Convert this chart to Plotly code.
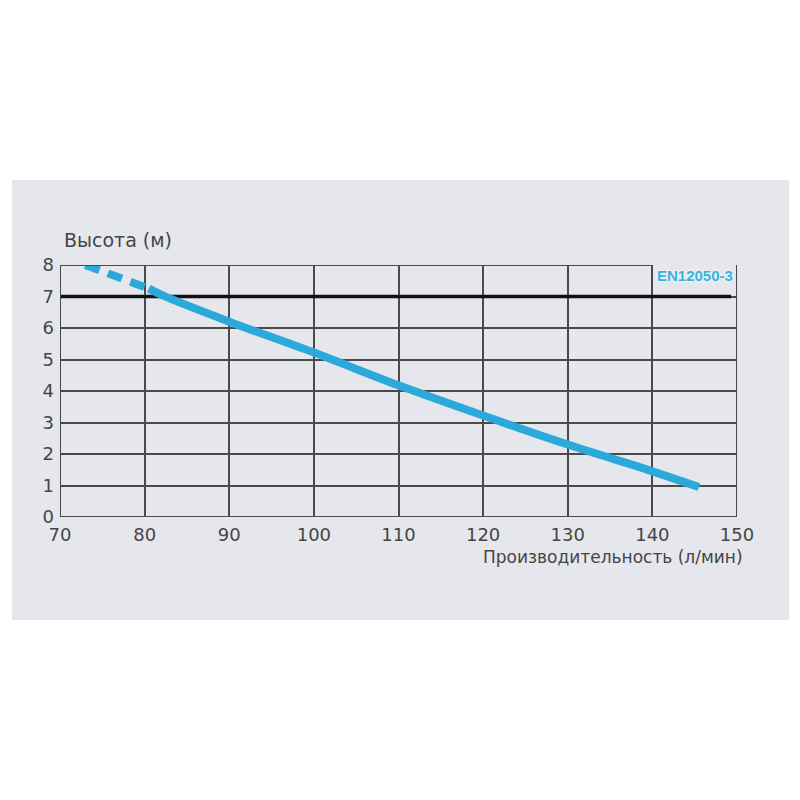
import plotly.graph_objects as go

# Data
x_dashed = [73.0, 77.0, 80.5]
y_dashed = [8.0, 7.6, 7.25]
x_solid = [80.5, 82.0, 90.0, 100.0, 110.0, 120.0, 130.0, 140.0, 145.5]
y_solid = [7.25, 7.05, 6.2, 5.22, 4.18, 3.22, 2.3, 1.45, 0.95]
norm_x = [70, 149.3]
norm_y = [7, 7]
norm_label = "EN12050-3"
x_ticks = [70, 80, 90, 100, 110, 120, 130, 140, 150]
y_ticks = [0, 1, 2, 3, 4, 5, 6, 7, 8]
x_title = "Производительность (л/мин)"
y_title = "Высота (м)"

BLUE = "#2aa9da"
GRID = "#4a4a4a"
TXT = "#454545"
FONT = "DejaVu Sans, sans-serif"

fig = go.Figure()
fig.add_trace(go.Scatter(x=norm_x, y=norm_y, mode="lines",
                         line=dict(color="#111111", width=3.5), hoverinfo="skip"))
fig.add_trace(go.Scatter(x=x_dashed, y=y_dashed, mode="lines",
                         line=dict(color=BLUE, width=8, dash="15px,9px"), hoverinfo="skip"))
fig.add_trace(go.Scatter(x=x_solid, y=y_solid, mode="lines",
                         line=dict(color=BLUE, width=8, shape="spline"), hoverinfo="skip"))

# background panel
fig.add_shape(type="rect", xref="paper", yref="paper",
              x0=-0.071, x1=1.077, y0=-0.409, y1=1.337,
              fillcolor="#e6e7ec", line=dict(width=0), layer="below")

# plot borders (top border omitted over last cell where label sits)
bl = dict(color=GRID, width=2)
fig.add_shape(type="line", xref="x", yref="y", x0=x_ticks[0], x1=x_ticks[-2], y0=y_ticks[-1], y1=y_ticks[-1], line=bl)
fig.add_shape(type="line", xref="x", yref="y", x0=x_ticks[-1], x1=x_ticks[-1], y0=y_ticks[0], y1=y_ticks[-1], line=bl)
fig.add_shape(type="line", xref="x", yref="y", x0=x_ticks[0], x1=x_ticks[0], y0=y_ticks[0], y1=y_ticks[-1], line=bl)
fig.add_shape(type="line", xref="x", yref="y", x0=x_ticks[0], x1=x_ticks[-1], y0=y_ticks[0], y1=y_ticks[0], line=bl)

fig.add_annotation(x=145, y=7.68, xref="x", yref="y", text="<b>" + norm_label + "</b>",
                   showarrow=False,
                   font=dict(family="Liberation Sans Narrow, Arial Narrow, sans-serif", size=15,
                             color="#35b3de", shadow="0px 0px 3px white"))
fig.add_annotation(x=0.003, y=1.099, xref="paper", yref="paper", text=y_title,
                   showarrow=False, xanchor="left", yanchor="middle",
                   font=dict(family=FONT, size=19, color=TXT))
fig.add_annotation(x=1.012, y=-0.159, xref="paper", yref="paper", text=x_title,
                   showarrow=False, xanchor="right", yanchor="middle",
                   font=dict(family=FONT, size=17, color=TXT))

fig.update_xaxes(range=[x_ticks[0], x_ticks[-1]], tickvals=x_ticks, showgrid=True,
                 gridcolor=GRID, gridwidth=1.5, zeroline=False, showline=False,
                 ticks="", ticklabelstandoff=5, tickfont=dict(family=FONT, size=18, color=TXT))
fig.update_yaxes(range=[y_ticks[0], y_ticks[-1]], tickvals=y_ticks, showgrid=True,
                 gridcolor=GRID, gridwidth=1.5, zeroline=False, showline=False,
                 ticks="", ticklabelstandoff=5, tickfont=dict(family=FONT, size=18, color=TXT))

fig.update_layout(width=800, height=800, showlegend=False,
                  paper_bgcolor="white", plot_bgcolor="rgba(0,0,0,0)",
                  margin=dict(l=52, r=71, t=257, b=291, pad=0))

fig.write_html("out.html")
